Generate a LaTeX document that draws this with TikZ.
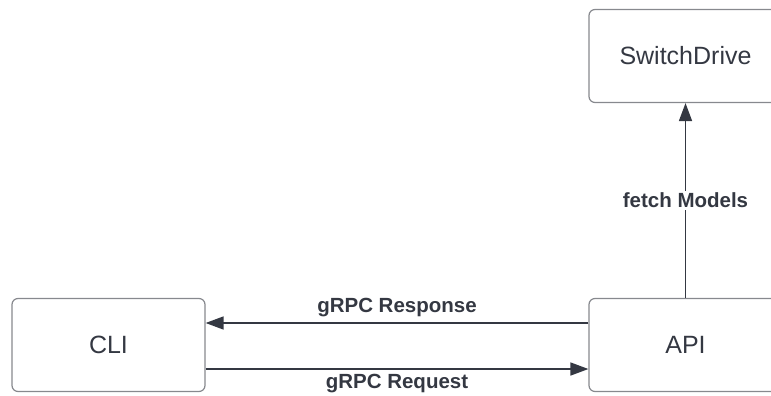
\documentclass[tikz,border=0pt]{standalone}
\usepackage{fontspec}
\setmainfont{Liberation Sans}
\usetikzlibrary{arrows.meta}
\definecolor{inkgray}{RGB}{52,56,66}
\definecolor{boxgray}{RGB}{135,137,142}
\begin{document}
\begin{tikzpicture}[x=1pt,y=-1pt,
    box/.style={draw=boxgray,line width=1.2pt,rounded corners=6pt,
        minimum width=193pt,minimum height=93pt,text=inkgray,
        font=\fontsize{25}{30}\selectfont},
    flow/.style={draw=inkgray,line width=1.6pt,-{Triangle[length=18pt,width=13pt]}},
    lbl/.style={text=inkgray,font=\fontsize{20.5}{24}\bfseries\selectfont}]
				\useasboundingbox (0,0) rectangle (771,396);
				\node[box] (sd) at (685.5,56) {SwitchDrive};
				\node[box] (cli) at (108.5,345) {CLI};
				\node[box] (api) at (685.5,345) {API};
				\draw[flow] ([yshift=22pt]api.west) to node[lbl,above=2pt] {gRPC Response} ([yshift=22pt]cli.east);
				\draw[flow] ([yshift=-24pt]cli.east) to node[lbl,below=1pt] {gRPC Request} ([yshift=-24pt]api.west);
				\draw[flow] (api.north) to node[lbl,fill=white,inner sep=2pt] {fetch Models} (sd.south);
			\end{tikzpicture}
\end{document}
